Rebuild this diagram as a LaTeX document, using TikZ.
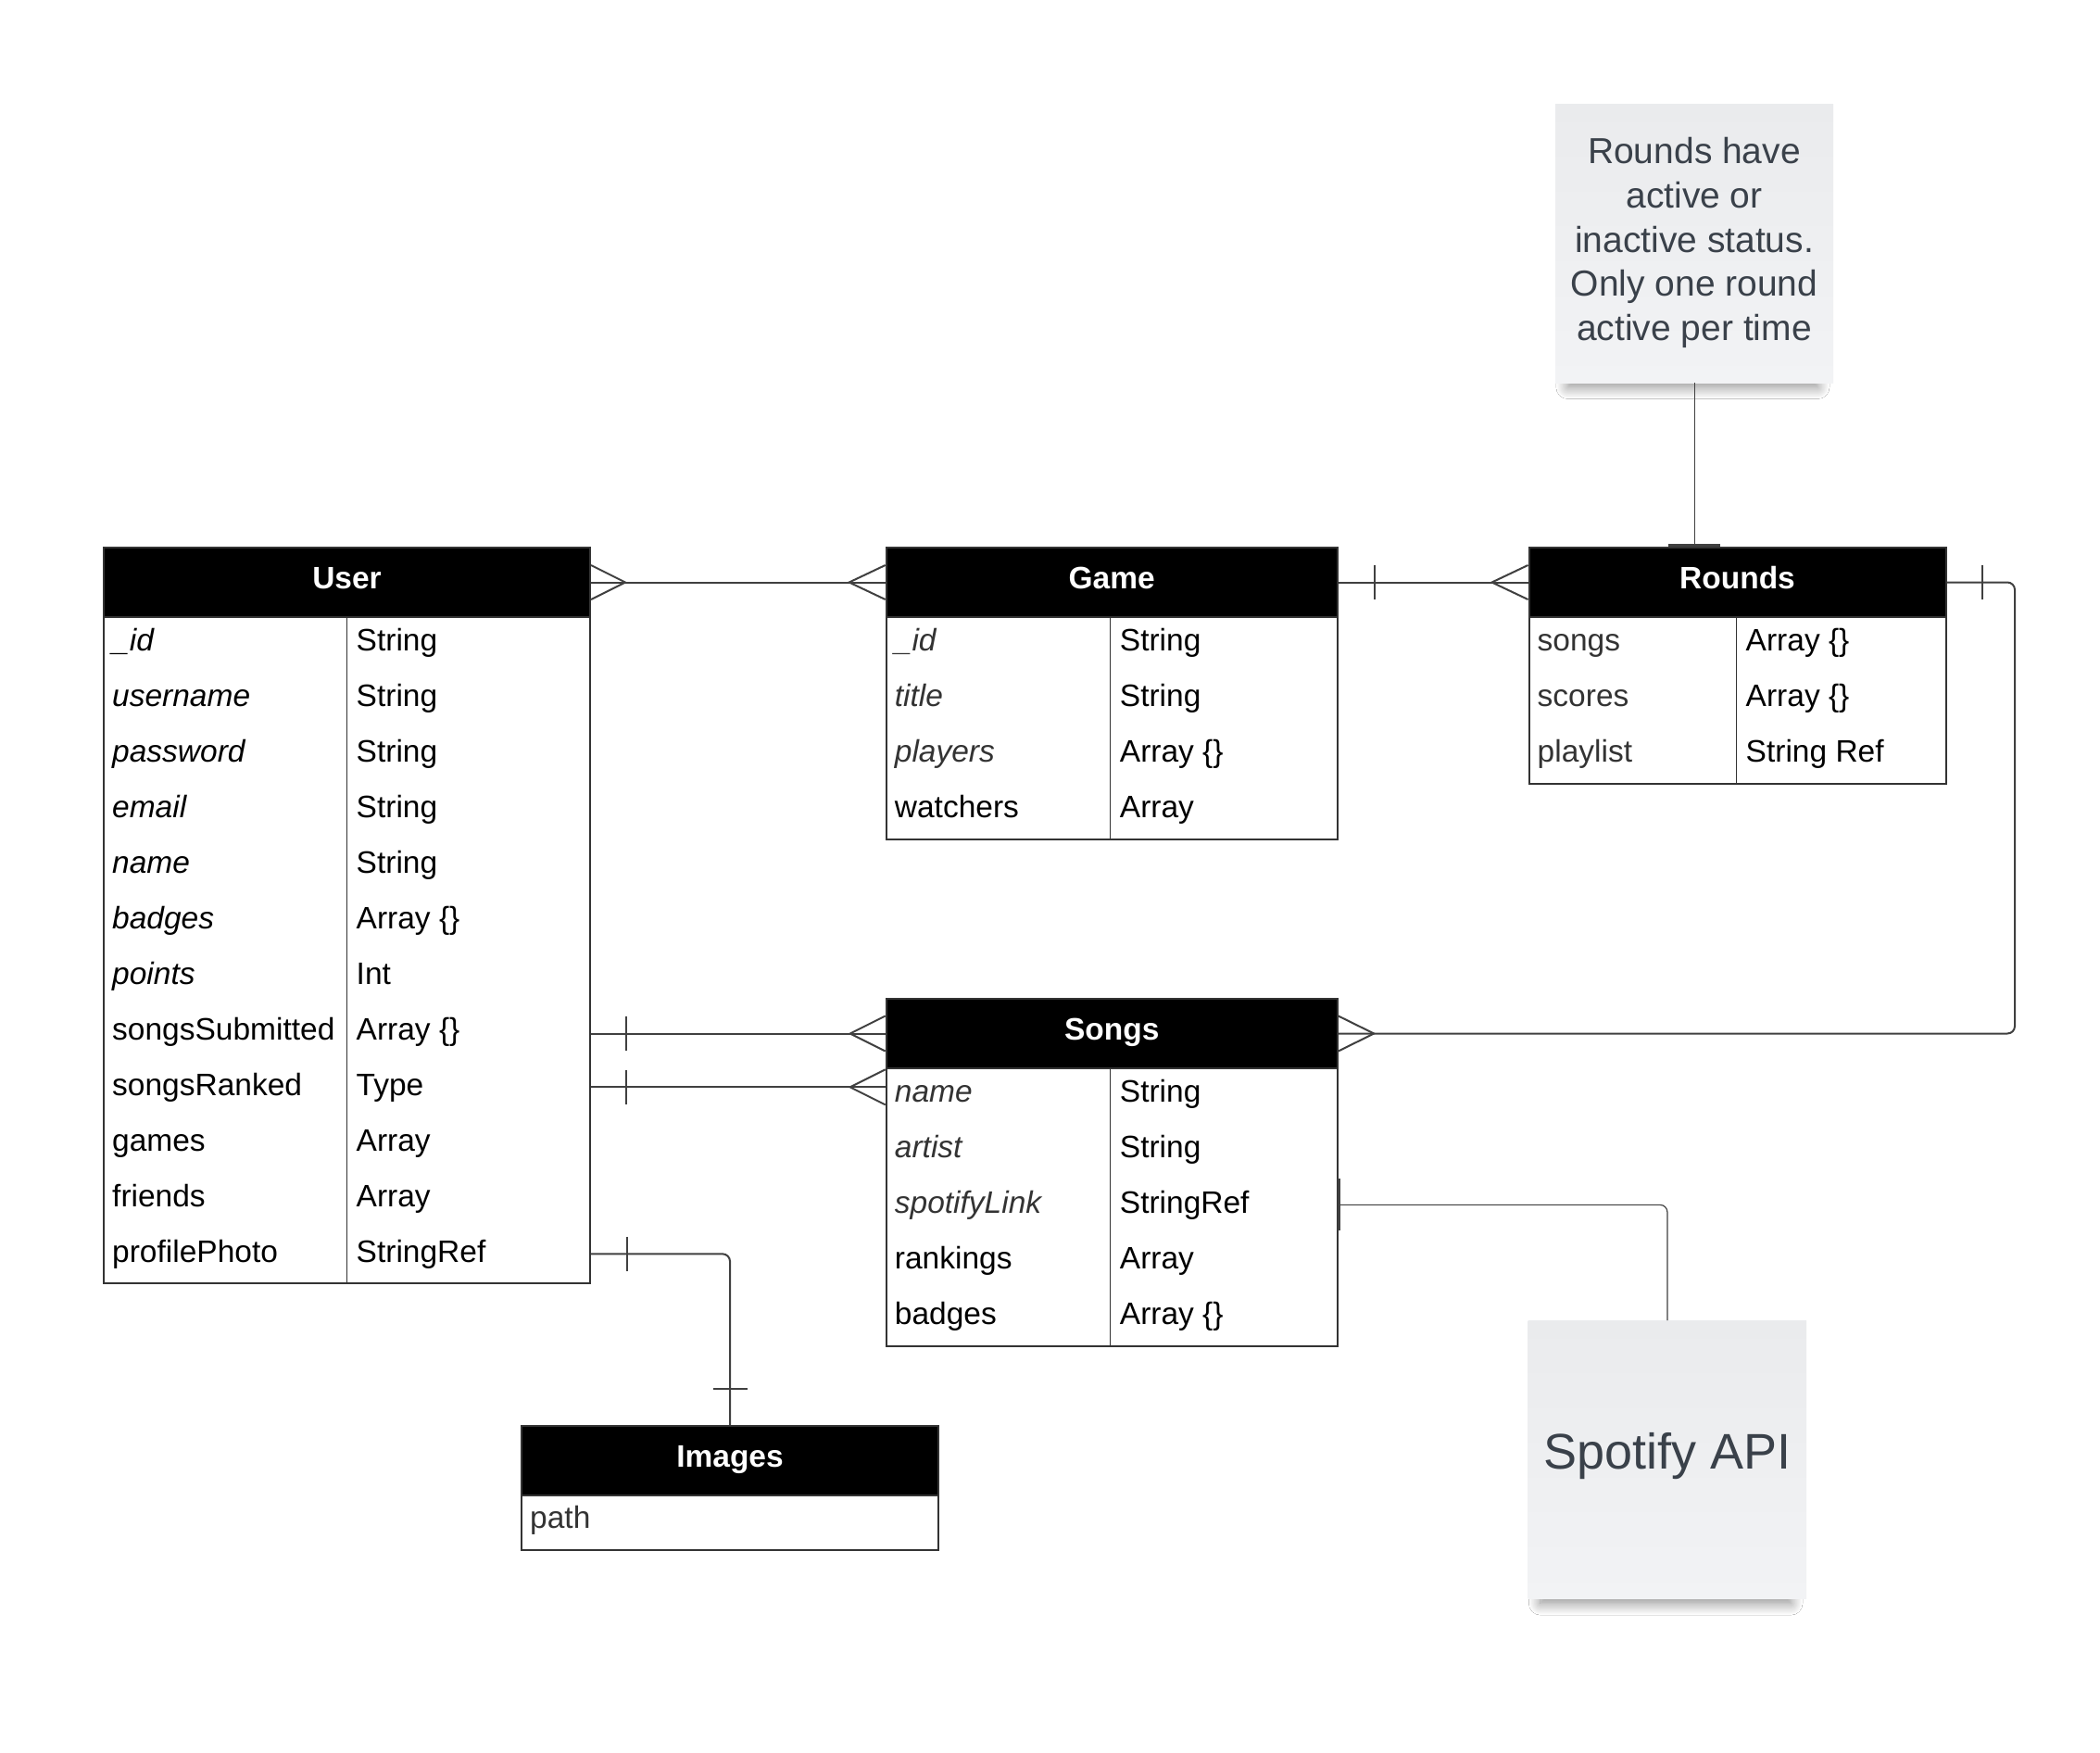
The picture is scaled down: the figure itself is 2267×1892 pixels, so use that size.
\documentclass[tikz,border=0pt]{standalone}
\usepackage{fontspec}
\setmainfont{Liberation Sans}
\usetikzlibrary{calc,shadows.blur}
\definecolor{ln}{HTML}{404040}
\definecolor{bd}{HTML}{333333}
\definecolor{gname}{HTML}{333333}
\definecolor{notetxt}{HTML}{3A414A}
\definecolor{notetop}{HTML}{EAEBED}
\definecolor{notebot}{HTML}{F2F3F5}
\begin{document}
\begin{tikzpicture}[x=1pt,y=-1pt,
 hdr/.style={draw=bd, line width=2pt, fill=black, text=white, anchor=north west, inner sep=0pt, minimum height=75pt, font=\fontsize{33.5}{40}\selectfont\bfseries, text height=23pt, text depth=10pt},
 bodybox/.style={draw=bd, line width=2pt, fill=white, anchor=north west, inner sep=0pt},
 fld/.style={anchor=base west, inner sep=0pt, font=\fontsize{33.5}{40}\selectfont},
 div/.style={draw=bd, line width=1pt},
 conn/.style={draw=ln, line width=2pt},
 thinconn/.style={draw=ln, line width=1.2pt},
 sticky/.style={anchor=north west, inner sep=0pt, top color=notetop, bottom color=notebot, text=notetxt, align=center,
   blur shadow={shadow xshift=-2pt, shadow yshift=-22pt, shadow scale=0.9, shadow blur radius=14pt, shadow blur steps=16, shadow opacity=45}},
 stickytext/.style={text=notetxt, align=center, inner sep=0pt}
]
\useasboundingbox (0,0) rectangle (2267,1892);
\fill[white] (0,0) rectangle (2267,1892);

% ---------- User ----------
\node[bodybox, minimum width=525pt, minimum height=719pt] (userB) at (111,665) {};
\node[hdr, minimum width=525pt] (userH) at (111,590) {User};
\draw[div] ($(userB.north west)+(263.5,0)$) -- ($(userB.south west)+(263.5,0)$);
\foreach \n/\t [count=\i from 0] in {{\textit{\_id}}/String,{\textit{username}}/String,{\textit{password}}/String,{\textit{email}}/String,{\textit{name}}/String,{\textit{badges}}/{Array \{\}},{\textit{points}}/Int,songsSubmitted/{Array \{\}},songsRanked/Type,games/Array,friends/Array,profilePhoto/StringRef}{
  \node[fld] (u\i) at (121,702+60*\i) {\n};
  \node[fld] (ut\i) at (384.5,702+60*\i) {\t};
}

% ---------- Game ----------
\node[bodybox, minimum width=487pt, minimum height=240pt] (gameB) at (955.7,665) {};
\node[hdr, minimum width=487pt] (gameH) at (955.7,590) {Game};
\draw[div] ($(gameB.north west)+(243,0)$) -- ($(gameB.south west)+(243,0)$);
\foreach \n/\t [count=\i from 0] in {{\textcolor{gname}{\textit{\_id}}}/String,{\textcolor{gname}{\textit{title}}}/String,{\textcolor{gname}{\textit{players}}}/{Array \{\}},watchers/Array}{
  \node[fld] (g\i) at (965.7,702+60*\i) {\n};
  \node[fld] (gt\i) at (1208.7,702+60*\i) {\t};
}

% ---------- Rounds ----------
\node[bodybox, minimum width=450pt, minimum height=180pt] (roundsB) at (1649.5,665) {};
\node[hdr, minimum width=450pt] (roundsH) at (1649.5,590) {Rounds};
\draw[div] ($(roundsB.north west)+(225,0)$) -- ($(roundsB.south west)+(225,0)$);
\foreach \n/\t [count=\i from 0] in {songs/{Array \{\}},scores/{Array \{\}},playlist/{String Ref}}{
  \node[fld, text=gname] (r\i) at (1659.5,702+60*\i) {\n};
  \node[fld] (rt\i) at (1884.5,702+60*\i) {\t};
}

% ---------- Songs ----------
\node[bodybox, minimum width=487pt, minimum height=300pt] (songsB) at (955.7,1152) {};
\node[hdr, minimum width=487pt] (songsH) at (955.7,1077) {Songs};
\draw[div] ($(songsB.north west)+(243,0)$) -- ($(songsB.south west)+(243,0)$);
\foreach \n/\t [count=\i from 0] in {{\textcolor{gname}{\textit{name}}}/String,{\textcolor{gname}{\textit{artist}}}/String,{\textcolor{gname}{\textit{spotifyLink}}}/StringRef,rankings/Array,badges/{Array \{\}}}{
  \node[fld] (s\i) at (965.7,1189+60*\i) {\n};
  \node[fld] (st\i) at (1208.7,1189+60*\i) {\t};
}

% ---------- Images ----------
\node[bodybox, minimum width=450pt, minimum height=59pt] (imagesB) at (562,1613) {};
\node[hdr, minimum width=450pt] (imagesH) at (562,1538) {Images};
\node[fld, text=gname] (i0) at (572,1649) {path};

% ---------- Notes ----------
\node[sticky, minimum width=300pt, minimum height=301pt] (note) at (1679,112) {};
\node[stickytext, font=\fontsize{39}{47.7}\selectfont] (noteT) at (1829,262)
  {Rounds have\\active or\\inactive status.\\Only one round\\active per time};
\node[sticky, minimum width=300.5pt, minimum height=300.5pt] (spot) at (1649.5,1425) {};
\node[stickytext, font=\fontsize{54}{60}\selectfont] (spotT) at (1800,1572) {Spotify API};

% ---------- Connectors ----------
% User - Game
\draw[conn] (userH.east) -- (gameH.west);
\draw[conn] ($(userH.east)+(0,-18.5)$) -- ($(userH.east)+(37,0)$) -- ($(userH.east)+(0,18.5)$);
\draw[conn] ($(gameH.west)+(0,-18.5)$) -- ($(gameH.west)+(-39,0)$) -- ($(gameH.west)+(0,18.5)$);

% Game - Rounds
\draw[conn] (gameH.east) -- (roundsH.west);
\draw[conn] ($(gameH.east)+(39,-18.5)$) -- ++(0,37);
\draw[conn] ($(roundsH.west)+(0,-18.5)$) -- ($(roundsH.west)+(-39,0)$) -- ($(roundsH.west)+(0,18.5)$);

% Rounds - Songs
\coordinate (rturn) at (2175,0);
\draw[conn, rounded corners=8pt] (roundsH.east) -| (rturn |- songsH.east) -- (songsH.east);
\draw[conn] ($(roundsH.east)+(38,-18.5)$) -- ++(0,37);
\draw[conn] ($(songsH.east)+(0,-19)$) -- ($(songsH.east)+(38.5,0)$) -- ($(songsH.east)+(0,19)$);

% User songsSubmitted - Songs
\draw[conn] (songsH.west -| userB.east) -- (songsH.west);
\draw[conn] ($(songsH.west -| userB.east)+(38,-18.5)$) -- ++(0,37);
\draw[conn] ($(songsH.west)+(0,-19)$) -- ($(songsH.west)+(-38,0)$) -- ($(songsH.west)+(0,19)$);

% User songsRanked - Songs name
\draw[conn] (userB.east |- u8) -- (songsB.west |- u8);
\draw[conn] ($(userB.east |- u8)+(38,-18.5)$) -- ++(0,37);
\draw[conn] ($(songsB.west |- u8)+(0,-19)$) -- ($(songsB.west |- u8)+(-38,0)$) -- ($(songsB.west |- u8)+(0,19)$);

% User profilePhoto - Images
\draw[conn, rounded corners=8pt] (userB.east |- u11) -| (imagesH.north);
\draw[conn] ($(userB.east |- u11)+(39,-18.5)$) -- ++(0,37);
\draw[conn] ($(imagesH.north)+(-18.5,-39)$) -- ++(37,0);

% Songs spotifyLink - Spotify API
\draw[thinconn, rounded corners=8pt] (songsB.east |- s2) -| (spot.north);
\draw[draw=ln, line width=3pt] ($(songsB.east |- s2)+(1,-28)$) -- ++(0,56);

% Note - Rounds
\draw[thinconn] (note.south) -- (note.south |- roundsH.north);
\fill[ln] ($(note.south |- roundsH.north)+(-28,-3.5)$) rectangle ++(56,3.5);
\end{tikzpicture}
\end{document}
